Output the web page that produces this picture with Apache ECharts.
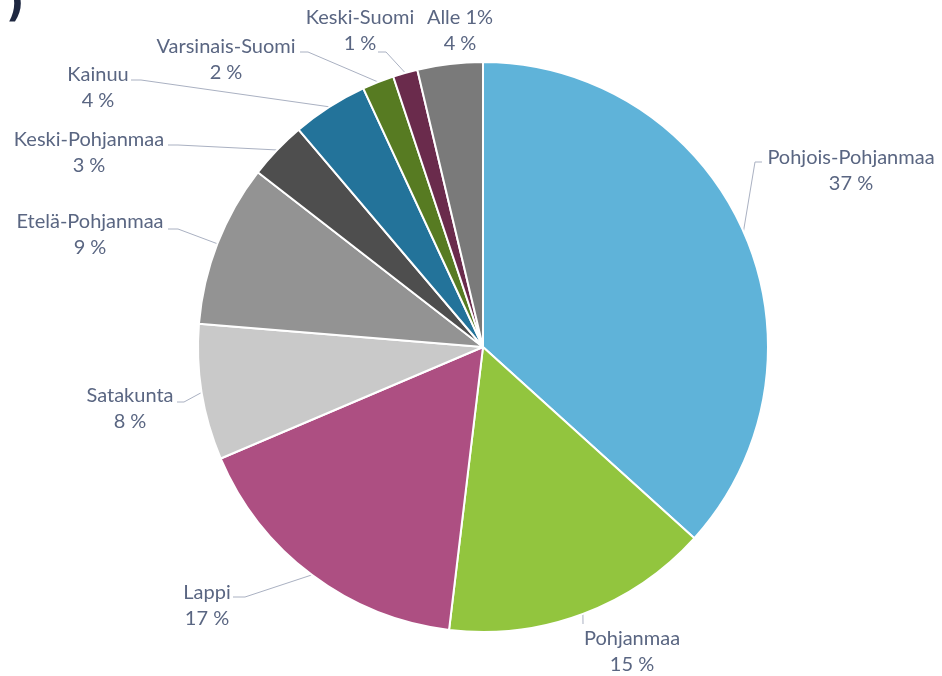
<!DOCTYPE html>
<html>
<head>
<meta charset="utf-8">
<script src="https://cdn.jsdelivr.net/npm/echarts@6/dist/echarts.min.js"></script>
<style>
html,body{margin:0;padding:0;background:#fff;}
#chart{width:942px;height:676px;}
</style>
</head>
<body>
<div id="chart"></div>
<script>
// Data (share of total, %)
const categories = ['Pohjois-Pohjanmaa','Pohjanmaa','Lappi','Satakunta','Etelä-Pohjanmaa','Keski-Pohjanmaa','Kainuu','Varsinais-Suomi','Keski-Suomi','Alle 1%'];
const shares = [36.7, 15.2, 16.7, 7.7, 9.2, 3.3, 4.3, 1.8, 1.4, 3.7];
const colors = ['#5fb3d9','#92c53e','#ad4f82','#c9c9c9','#939393','#4e4e4e','#23739a','#577b22','#6a2b4c','#7a7a7a'];

// Layout: label block centers and leader-line end/elbow points
const labelPos = [[851,171],[632,652],[207,606],[130,409],[90,235],[89,153],[98,88],[226,60],[360,31],[460,31]];
const lineEnd = [
  [[762,162],[755,162]],
  [[583,624],[583,624]],
  [[233,597],[245,597]],
  [[177,402],[184,402]],
  [[168,229],[178,229]],
  [[168,145],[178,145]],
  [[131,80],[141,80]],
  [[300,52],[308,52]],
  [[378,52],[386,52]],
  null
];

const chart = echarts.init(document.getElementById('chart'), null, {renderer:'canvas'});
chart.setOption({
  animation:false,
  backgroundColor:'#fff',
  graphic:[{
    type:'text', left:6, top:-14,
    style:{text:')', font:'bold 40px "DejaVu Sans"', fill:'#1e2740'}
  }],
  series:[{
    type:'pie',
    center:[483,347],
    radius:[0,285],
    startAngle:90,
    clockwise:true,
    avoidLabelOverlap:false,
    itemStyle:{borderColor:'#fff', borderWidth:2},
    label:{
      show:true,
      position:'outside',
      formatter:p => p.name + '\n' + Math.round(p.value) + ' %',
      fontFamily:'Lato',
      fontSize:20,
      lineHeight:26,
      color:'#5a6682',
      align:'center'
    },
    labelLine:{show:true, length:10, length2:10, lineStyle:{color:'#aab1c2', width:1}},
    labelLayout:function(params){
      const i = params.dataIndex;
      const res = {x:labelPos[i][0], y:labelPos[i][1], align:'center', verticalAlign:'middle'};
      if (lineEnd[i] && params.labelLinePoints) {
        const start = params.labelLinePoints[0];
        res.labelLinePoints = [start, lineEnd[i][1], lineEnd[i][0]];
      }
      return res;
    },
    data: categories.map((n,i)=>({
      name:n, value:shares[i],
      itemStyle:{color:colors[i]},
      labelLine:{show: lineEnd[i] !== null}
    }))
  }]
});
</script>
</body>
</html>
